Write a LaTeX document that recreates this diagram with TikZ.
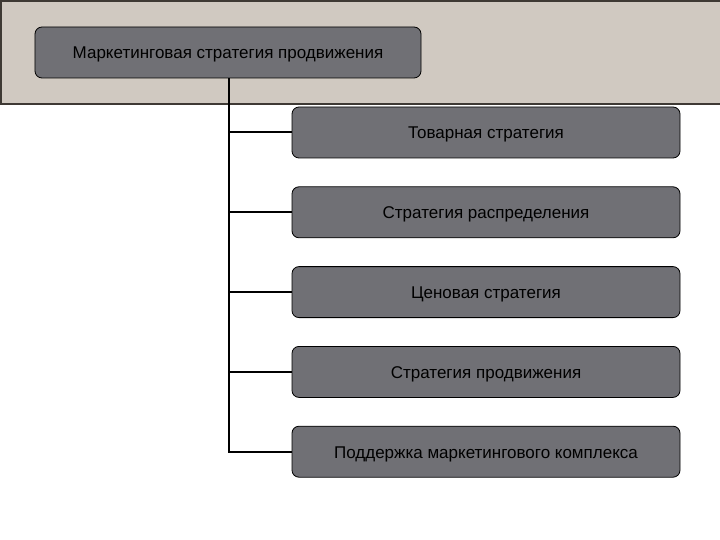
\documentclass[tikz,border=0pt]{standalone}
\usepackage{fontspec}
\setmainfont{Liberation Sans}
\usetikzlibrary{positioning}

\definecolor{bandbg}{RGB}{208,201,193}
\definecolor{bandline}{RGB}{62,57,52}
\definecolor{boxgrey}{RGB}{112,112,117}

\tikzset{
    stratbox/.style={draw=black, line width=0.8bp, fill=boxgrey, rounded corners=7bp,
        minimum height=51bp, inner sep=0pt, text height=13bp, text depth=0pt,
        font=\fontsize{17bp}{20bp}\selectfont},
    linkline/.style={line width=2bp, black}
}

\begin{document}
\begin{tikzpicture}[x=1bp, y=-1bp]
    \useasboundingbox (0, 0) rectangle (720, 540);
    % top band
    \fill[bandbg] (0, 0) rectangle (720, 104);
    \draw[bandline, line width=2bp] (0, 1) -- (720, 1);
    \draw[bandline, line width=2bp] (1, 0) -- (1, 104);
    \draw[bandline, line width=1.6bp] (0, 104) -- (720, 104);

    \node[stratbox, minimum width=386bp] (root) at (228, 52.5) {Маркетинговая стратегия продвижения};

    \node[stratbox, minimum width=388bp] (s1) at (486, 132.5) {Товарная стратегия};
    \node[stratbox, minimum width=388bp, below=28bp of s1] (s2) {Стратегия распределения};
    \node[stratbox, minimum width=388bp, below=28bp of s2] (s3) {Ценовая стратегия};
    \node[stratbox, minimum width=388bp, below=28bp of s3] (s4) {Стратегия продвижения};
    \node[stratbox, minimum width=388bp, below=28bp of s4] (s5) {Поддержка маркетингового комплекса};

    \draw[linkline] ([xshift=1bp]root.south) |- (s5.west);
    \foreach \n in {s1, s2, s3, s4}
        \draw[linkline] ([xshift=1bp]root.south |- \n.west) -- (\n.west);
\end{tikzpicture}
\end{document}
